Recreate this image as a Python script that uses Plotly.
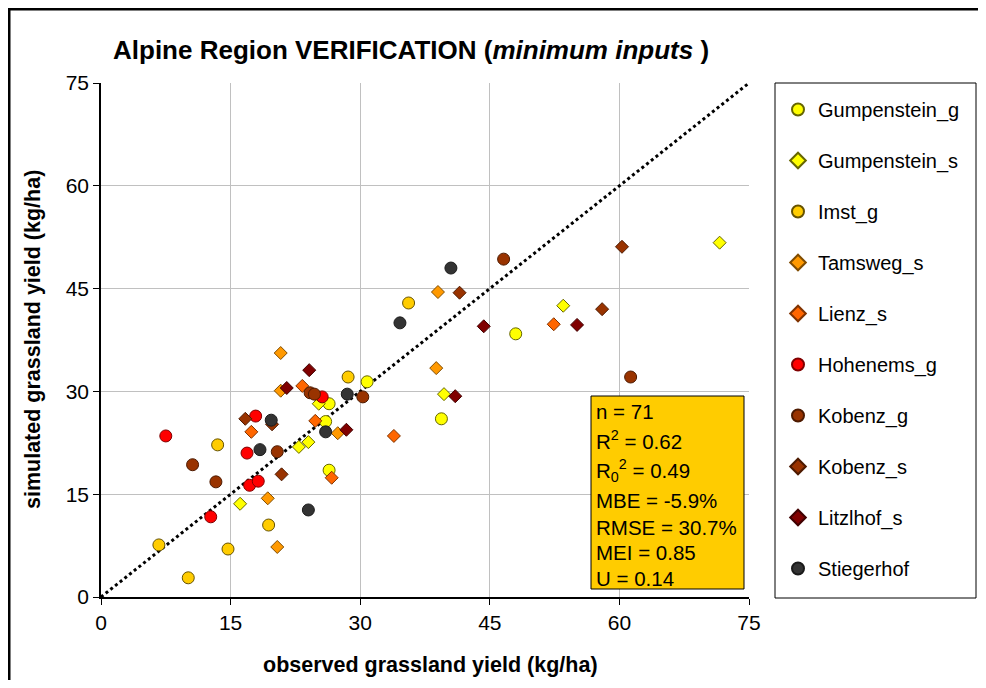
import plotly.graph_objects as go

# ---- data (observed, simulated) ----
gump_g_obs = [30.8, 26.4, 26.0, 39.4, 26.4, 48.0]
gump_g_sim = [31.4, 28.2, 25.6, 26.0, 18.5, 38.4]

gump_s_obs = [22.9, 24.0, 25.2, 39.7, 16.1, 53.5, 71.6]
gump_s_sim = [21.9, 22.6, 28.2, 29.6, 13.6, 42.5, 51.7]

imst_g_obs = [28.6, 35.6, 13.5, 19.4, 6.7, 14.7, 10.1]
imst_g_sim = [32.1, 42.9, 22.2, 10.5, 7.6, 7.0, 2.8]

tams_s_obs = [20.8, 20.8, 39.0, 38.8, 27.4, 19.3, 20.4]
tams_s_sim = [35.6, 30.1, 44.5, 33.4, 23.9, 14.4, 7.3]

lienz_s_obs = [17.4, 23.3, 24.8, 26.7, 33.9, 52.4]
lienz_s_sim = [24.1, 30.8, 25.7, 17.4, 23.5, 39.8]

hohen_g_obs = [7.5, 17.9, 16.9, 25.6, 17.2, 18.2, 12.7]
hohen_g_sim = [23.5, 26.4, 21.0, 29.2, 16.3, 16.9, 11.7]

kob_g_obs = [20.4, 10.6, 13.3, 24.2, 24.7, 30.3, 46.6, 61.3]
kob_g_sim = [21.2, 19.3, 16.8, 29.8, 29.6, 29.2, 49.3, 32.1]

kob_s_obs = [16.7, 19.8, 20.9, 41.5, 60.3, 58.0]
kob_s_sim = [26.0, 25.2, 17.9, 44.4, 51.1, 42.0]

litz_s_obs = [21.5, 24.1, 28.4, 41.0, 44.3, 55.1]
litz_s_sim = [30.5, 33.1, 24.4, 29.3, 39.5, 39.7]

stieg_obs = [40.5, 34.6, 19.7, 18.4, 28.5, 26.0, 24.0]
stieg_sim = [48.0, 40.0, 25.8, 21.5, 29.6, 24.1, 12.7]

series_names = ["Gumpenstein_g", "Gumpenstein_s", "Imst_g", "Tamsweg_s", "Lienz_s",
                "Hohenems_g", "Kobenz_g", "Kobenz_s", "Litzlhof_s", "Stiegerhof"]
series_obs = [gump_g_obs, gump_s_obs, imst_g_obs, tams_s_obs, lienz_s_obs,
              hohen_g_obs, kob_g_obs, kob_s_obs, litz_s_obs, stieg_obs]
series_sim = [gump_g_sim, gump_s_sim, imst_g_sim, tams_s_sim, lienz_s_sim,
              hohen_g_sim, kob_g_sim, kob_s_sim, litz_s_sim, stieg_sim]
series_fill = ["#FFFF00", "#FFFF00", "#FFCC00", "#FF9900", "#FF6600",
               "#FF0000", "#993300", "#993300", "#800000", "#333333"]
series_edge = ["#666600", "#666600", "#665200", "#804c00", "#803300",
               "#800000", "#4d1a00", "#4d1a00", "#400000", "#1a1a1a"]
series_symbol = ["circle", "diamond", "circle", "diamond", "diamond",
                 "circle", "circle", "diamond", "diamond", "circle"]

ticks = [0, 15, 30, 45, 60, 75]
line_1to1 = [0, 75]

stats_lines = ["n = 71", "R<sup>2</sup> = 0.62", "R<sub>0</sub><sup>2</sup> = 0.49",
               "MBE = -5.9%", "RMSE = 30.7%", "MEI = 0.85", "U = 0.14"]

# ---- layout helpers (page pixel -> paper) ----
OFF = 8                      # page offset of the figure
W, H = 970, 672
L, R, T, B = 101, 749, 83, 597   # plot area in page pixels


def px(x):
    return (x - L) / (R - L)


def py(y):
    return (B - y) / (B - T)


FONT = "Liberation Sans, Arial, sans-serif"

fig = go.Figure()

fig.add_trace(go.Scatter(x=line_1to1, y=line_1to1, mode="lines",
                         line=dict(color="black", width=3, dash="dot"),
                         showlegend=False, hoverinfo="skip"))

for name, xo, ys, fc, ec, sym in zip(series_names, series_obs, series_sim,
                                     series_fill, series_edge, series_symbol):
    fig.add_trace(go.Scatter(
        x=xo, y=ys, mode="markers", name=name, legendgroup=name,
        marker=dict(symbol=sym, size=12 if sym == "circle" else 10,
                    color=fc, line=dict(color=ec, width=1))))

frame_path = "M {a},{b} L {a},{c} L {d},{c}".format(a=px(9), b=py(720), c=py(9), d=px(1010))

shapes = [
    # outer frame (left and top edges; the rest lies outside the picture)
    dict(type="path", xref="paper", yref="paper", path=frame_path,
         line=dict(color="black", width=3), layer="below"),
    # legend box
    dict(type="rect", xref="paper", yref="paper",
         x0=px(775), x1=px(976), y0=py(598), y1=py(83),
         line=dict(color="black", width=1), fillcolor="white", layer="below"),
    # stats box
    dict(type="rect", xref="paper", yref="paper",
         x0=px(591), x1=px(744), y0=py(589), y1=py(396),
         line=dict(color="black", width=1), fillcolor="#FFCC00", layer="above"),
]

annotations = [
    dict(text="<b>Alpine Region VERIFICATION (<i>minimum inputs</i> )</b>",
         xref="paper", yref="paper", x=px(411), y=py(50), showarrow=False,
         xanchor="center", yanchor="middle", font=dict(size=26, color="black", family=FONT)),
    dict(text="<b>observed grassland yield (kg/ha)</b>",
         xref="paper", yref="paper", x=px(430), y=py(665), showarrow=False,
         xanchor="center", yanchor="middle", font=dict(size=21.5, color="black", family=FONT)),
    dict(text="<b>simulated grassland yield (kg/ha)</b>", textangle=-90,
         xref="paper", yref="paper", x=px(33), y=py(340), showarrow=False,
         xanchor="center", yanchor="middle", font=dict(size=21.5, color="black", family=FONT)),
]

stat_y = [411, 440, 470, 500, 527, 552, 578]
for txt, yy in zip(stats_lines, stat_y):
    annotations.append(dict(text=txt, xref="paper", yref="paper", x=px(594), y=py(yy),
                            showarrow=False, xanchor="left", yanchor="middle",
                            font=dict(size=20.5, color="black", family=FONT)))

axis_common = dict(range=[0, 75], tickvals=ticks, ticks="outside", ticklen=6,
                   tickcolor="black", showgrid=True, gridcolor="#C0C0C0", gridwidth=1,
                   showline=True, linecolor="black", linewidth=1.5, zeroline=False,
                   tickfont=dict(size=21, color="black", family=FONT), fixedrange=True)

fig.update_layout(
    width=W, height=H,
    margin=dict(l=L - OFF, r=W - (R - OFF), t=T - OFF, b=H - (B - OFF), pad=0),
    paper_bgcolor="white", plot_bgcolor="white",
    font=dict(family=FONT, color="black"),
    xaxis=dict(**axis_common),
    yaxis=dict(**axis_common),
    showlegend=True,
    legend=dict(x=px(778), y=py(90), xanchor="left", yanchor="top",
                bgcolor="rgba(0,0,0,0)", borderwidth=0,
                font=dict(size=20, color="black", family=FONT),
                traceorder="grouped", tracegroupgap=22, itemsizing="constant"),
    shapes=shapes, annotations=annotations,
)

fig.write_html("out.html")
